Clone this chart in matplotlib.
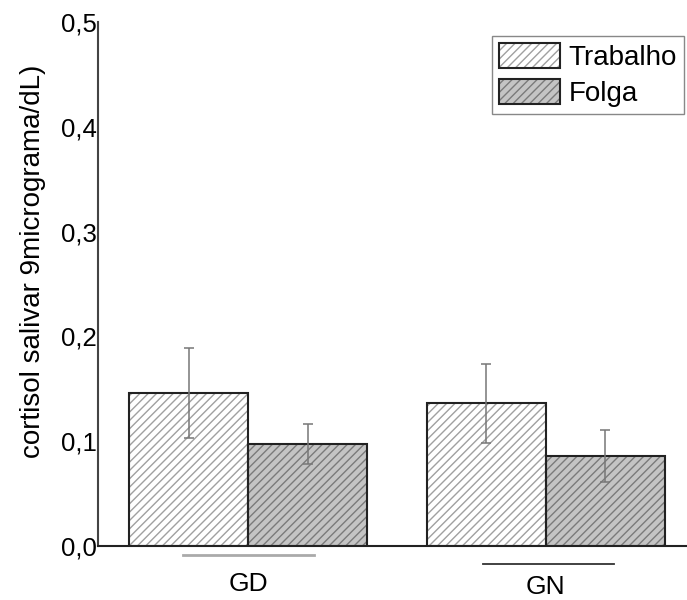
import numpy as np
import matplotlib
matplotlib.use('Agg')
import matplotlib.pyplot as plt
from matplotlib.patches import Patch
from matplotlib.legend_handler import HandlerTuple

plt.rcParams['font.family'] = ['Liberation Sans', 'DejaVu Sans']
plt.rcParams['hatch.linewidth'] = 1.0

# dados
grupos = ['GD', 'GN']
series = ['Trabalho', 'Folga']
trabalho = [0.146, 0.136]
trabalho_err = [0.043, 0.038]
folga = [0.097, 0.086]
folga_err = [0.019, 0.025]

faces = ['white', '#c4c4c4']
hatch_cores = ['#a0a0a0', '#7a7a7a']

fig = plt.figure(figsize=(6.87, 6.00), dpi=100)
ax = fig.add_axes([0.1427, 0.09, 0.8573, 0.8733])

x = np.arange(len(grupos))
w = 0.4
for i, (vals, errs) in enumerate([(trabalho, trabalho_err), (folga, folga_err)]):
    pos = x + (i - 0.5) * w
    ax.bar(pos, vals, w, color=faces[i], linewidth=0, zorder=2)
    ax.bar(pos, vals, w, fill=False, edgecolor=hatch_cores[i], hatch='////',
           linewidth=0, zorder=3)
    ax.bar(pos, vals, w, fill=False, edgecolor='#222222', linewidth=1.5, zorder=4)
    ax.errorbar(pos, vals, yerr=errs, fmt='none', ecolor='#777777',
                elinewidth=1.1, capsize=3.5, capthick=1.1, zorder=5)

# linhas abaixo dos grupos
trans = ax.get_xaxis_transform()
ax.plot([x[0] - 0.22, x[0] + 0.22], [-0.017, -0.017], color='#aaaaaa', lw=2,
        transform=trans, clip_on=False)
ax.plot([x[1] - 0.21, x[1] + 0.23], [-0.034, -0.034], color='#333333', lw=1.3,
        transform=trans, clip_on=False)

ax.set_xlim(-0.505, 1.475)
ax.set_ylim(0, 0.5)
ax.set_yticks(np.arange(0, 0.51, 0.1))
ax.set_yticklabels([f'{v:.1f}'.replace('.', ',') for v in np.arange(0, 0.51, 0.1)],
                   fontsize=18.5)
ax.set_xticks(x)
ax.set_xticklabels(grupos, fontsize=19)
ax.tick_params(axis='y', length=0, pad=1)
ax.tick_params(axis='x', length=0)
ticks = ax.xaxis.get_major_ticks()
ticks[0].set_pad(18.5)
ticks[1].set_pad(21)

ax.set_ylabel('cortisol salivar 9micrograma/dL)', fontsize=20)
ax.yaxis.set_label_coords(-0.088, 0.544)

ax.spines['top'].set_visible(False)
ax.spines['right'].set_visible(False)
ax.spines['left'].set_color('#444444')
ax.spines['left'].set_linewidth(1.5)
ax.spines['bottom'].set_color('#222222')
ax.spines['bottom'].set_linewidth(1.5)

handles = []
for i in range(2):
    handles.append((Patch(facecolor=faces[i], linewidth=0),
                    Patch(fill=False, edgecolor=hatch_cores[i], hatch='////', linewidth=0),
                    Patch(fill=False, edgecolor='#222222', linewidth=1.5)))
leg = ax.legend(handles, series, handler_map={tuple: HandlerTuple(ndivide=1, pad=0)},
                loc='upper right', bbox_to_anchor=(0.995, 0.973), borderaxespad=0,
                fontsize=20, fancybox=False, framealpha=1, edgecolor='#888888',
                borderpad=0.25, labelspacing=0.3, handletextpad=0.3,
                handlelength=2.2, handleheight=1.0)
leg.get_frame().set_linewidth(1.0)

fig.savefig('out.png', dpi=100)
